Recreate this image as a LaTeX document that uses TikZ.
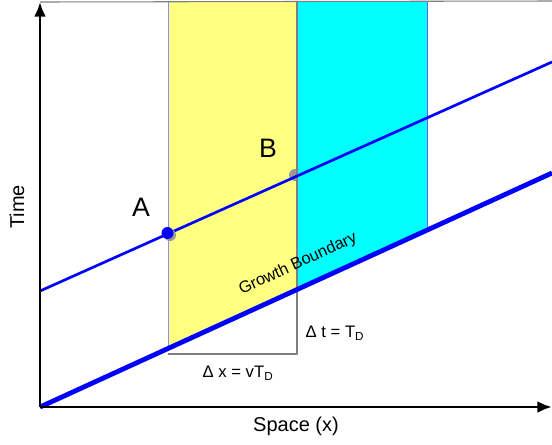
\documentclass[tikz,border=0pt]{standalone}
\usepackage{fontspec}
\setmainfont{Liberation Sans}
\usetikzlibrary{arrows.meta}
\definecolor{paleyellow}{RGB}{255,255,128}
\definecolor{brightcyan}{RGB}{0,255,255}
\definecolor{lightedge}{RGB}{140,140,255}
\tikzset{
  axis/.style={line width=2.2pt,->},
  worldline/.style={blue,line width=2pt},
  boundary/.style={blue,line width=3.6pt},
  frameline/.style={gray,line width=0.8pt},
  dot/.style={circle,inner sep=0pt,minimum size=9pt},
}
\begin{document}
\begin{tikzpicture}[x=0.75pt,y=-0.75pt, line join=round, >={Latex[length=11pt,width=9pt]}]
\useasboundingbox (0,0) rectangle (552,444);
% axes and lines
\coordinate (O) at (40,407);
\coordinate (Y) at (40,2);
\coordinate (X) at (552,407);
\coordinate (G) at (552,173);
\coordinate (W1) at (40,291);
\coordinate (W2) at (552,62);
% strip corners
\coordinate (T1) at (168,1);
\coordinate (T2) at (297,1);
\coordinate (T3) at (427,1);
\coordinate (P1) at (168,348.5);
\coordinate (P2) at (297,289.5);
\coordinate (P3) at (427,230);
\coordinate (Q1) at (168,354);
\coordinate (Q2) at (297,354);
\coordinate (R) at (552,1);
\fill[paleyellow] (T1)--(T2)--(P2)--(P1)--cycle;
% point B sits under the cyan strip
\node[dot,fill=gray!80] (B) at (295,175) {};
\fill[brightcyan] (T2)--(T3)--(P3)--(P2)--cycle;
\draw[lightedge,line width=0.6pt] (T1)--(P1);
\draw[lightedge!70!blue,line width=0.6pt] (T3)--(P3);
\draw[frameline] (T2)--(P2);
\draw[frameline] (P2)--(Q2)--(Q1);
\draw[frameline] (Y)--(R);
\draw[worldline] (W1)--(W2);
\node[dot,fill=gray!80] at (170,235) {};
\node[dot,fill=blue] (A) at (167.5,233) {};
\draw[boundary] (O)--(G);
\draw[axis] (O)--(Y);
\draw[axis] (O)--(X);
% labels
\node[font=\fontsize{20}{24}\selectfont] (lA) at (141,207.5) {A};
\node[font=\fontsize{20}{24}\selectfont] (lB) at (268,148) {B};
\node[font=\fontsize{15}{18}\selectfont,rotate=90] (lt) at (17,207) {Time};
\node[font=\fontsize{15}{18}\selectfont] (lx) at (296,426) {Space (x)};
\node[font=\fontsize{12.3}{15}\selectfont,rotate=24.6] (lg) at (298,264) {Growth Boundary};
\node[font=\fontsize{12.5}{15}\selectfont] (ldt) at (335,333) {Δ t = T\textsubscript{D}};
\node[font=\fontsize{12.5}{15}\selectfont] (ldx) at (238,373) {Δ x = vT\textsubscript{D}};
\end{tikzpicture}
\end{document}
